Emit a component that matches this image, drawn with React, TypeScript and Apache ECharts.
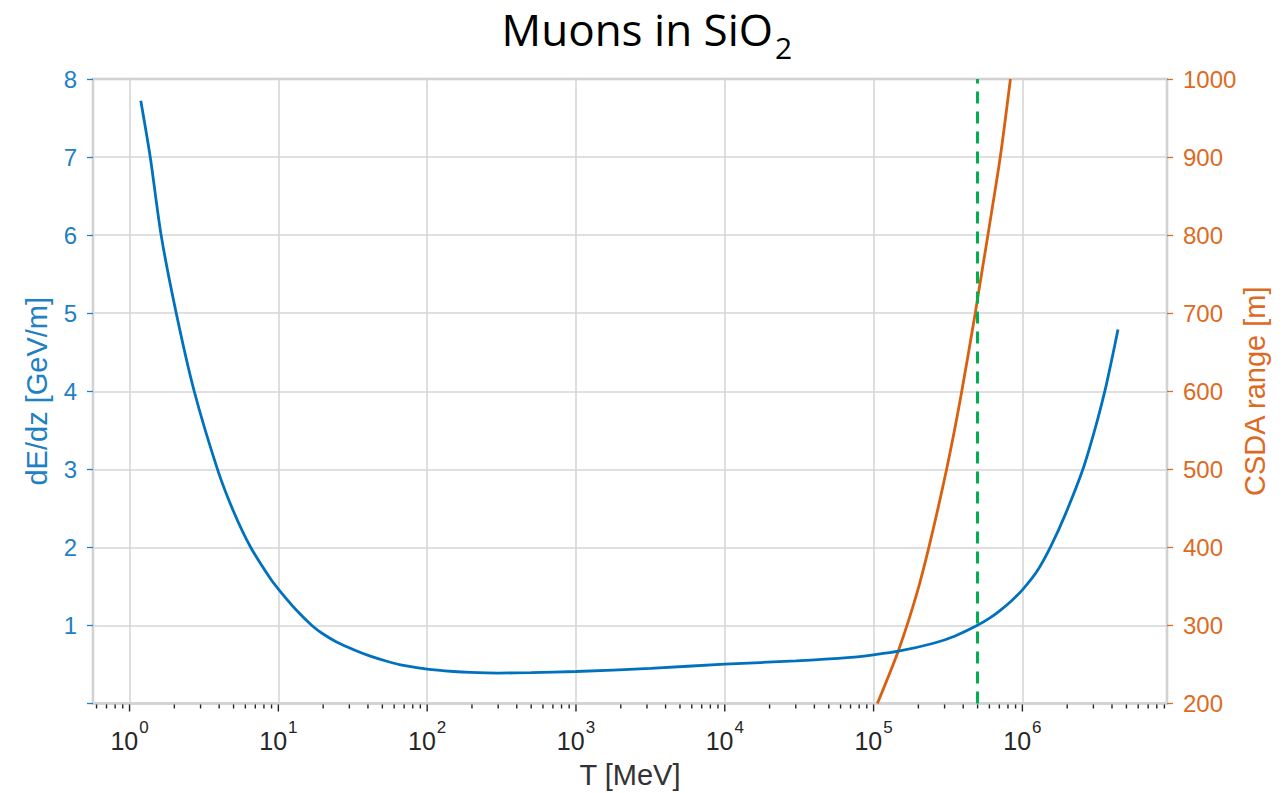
import React, { useEffect, useRef } from "react";
import * as echarts from "echarts";

// ---- data ----
// Blue curve: stopping power dE/dz [GeV/m] vs kinetic energy T [MeV]
const T_DEDZ = [
  1.19, 1.377, 1.63, 2.06, 2.72, 3.9, 5.0, 6.54, 8.83, 10, 13, 16.8, 20, 24.8, 33,
  41.5, 55, 69.4, 100, 150, 195, 300, 500, 1000, 3162, 10000, 30000, 70000, 100000,
  147000, 253000, 350000, 495000, 609000, 710000, 850000, 1000000, 1250000,
  1540000, 1940000, 2550000, 3090000, 3610000, 4000000, 4390000,
];
const DEDZ = [
  7.72, 7.0, 6.0, 5.0, 4.0, 3.0, 2.46, 1.995, 1.6, 1.465, 1.21, 1.0, 0.89, 0.785,
  0.68, 0.607, 0.535, 0.487, 0.44, 0.41, 0.398, 0.39, 0.395, 0.41, 0.45, 0.505,
  0.545, 0.59, 0.624, 0.67, 0.772, 0.862, 0.998, 1.1, 1.193, 1.32, 1.455, 1.69,
  2.0, 2.42, 3.0, 3.53, 4.03, 4.42, 4.79,
];
// Orange curve: CSDA range [m] vs T [MeV]
const T_RANGE = [
  106000, 147000, 196000, 240000, 311000, 383000, 482000, 521000, 584000, 710000,
  831000,
];
const RANGE = [200, 268, 342, 407, 502, 590, 700, 740, 798, 900, 1000];
// Vertical dashed marker
const MARKER_T = [500000];

// Axis definitions
const X_MIN = 0.568;
const X_MAX = 9.37e6;
const X_LABEL_EXPONENTS = [0, 1, 2, 3, 4, 5, 6];
const X_TICK_DECADES = [-1, 0, 1, 2, 3, 4, 5, 6];
const X_TICK_MULTIPLIERS = [1, 2, 3, 4, 5, 6, 7, 8, 9];
const LEFT_MIN = 0;
const LEFT_MAX = 8;
const LEFT_STEP = 1;
const RIGHT_MIN = 200;
const RIGHT_MAX = 1000;
const RIGHT_STEP = 100;

const TITLE_MAIN = "Muons in SiO";
const TITLE_SUB = "2";

const BLUE = "#0072BD";
const BLUE_TEXT = "#1f80c3";
const ORANGE = "#D9600F";
const ORANGE_TEXT = "#DD6B1F";
const GREEN = "#00B050";
const GRID_COLOR = "#d6d6d6";
const BORDER_COLOR = "#c6c6c6";
const FONT = "Liberation Sans, Arial, sans-serif";

export default function App() {
  const ref = useRef<HTMLDivElement>(null);

  useEffect(() => {
    if (!ref.current) return;
    const chart = echarts.init(ref.current, null, { renderer: "svg" });

    const tickData: number[][] = [];
    X_TICK_DECADES.forEach((d) => {
      X_TICK_MULTIPLIERS.forEach((m) => {
        const v = m * Math.pow(10, d);
        if (v >= X_MIN && v <= X_MAX) tickData.push([v, m === 1 ? 1 : 0]);
      });
    });

    const option: any = {
      animation: false,
      backgroundColor: "#ffffff",
      graphic: [
        {
          type: "text",
          x: 773,
          y: 29,
          style: {
            text: TITLE_MAIN,
            font: "normal 44px 'Open Sans'",
            fill: "#000000",
            align: "right",
            verticalAlign: "middle",
          },
        },
        {
          type: "text",
          x: 775,
          y: 47,
          style: {
            text: TITLE_SUB,
            font: "normal 30px 'Open Sans'",
            fill: "#000000",
            align: "left",
            verticalAlign: "middle",
          },
        },
      ],
      grid: {
        left: 93,
        top: 79,
        width: 1074,
        height: 624.5,
        containLabel: false,
        outerBoundsMode: "none",
        show: true,
        borderColor: BORDER_COLOR,
        borderWidth: 2.5,
        backgroundColor: "transparent",
      },
      xAxis: {
        type: "log",
        logBase: 10,
        min: X_MIN,
        max: X_MAX,
        splitNumber: 7,
        name: "T [MeV]",
        nameLocation: "middle",
        nameGap: 57,
        nameMoveOverlap: false,
        nameTextStyle: { fontFamily: FONT, fontSize: 29, color: "#333333" },
        axisLine: { show: false },
        axisTick: { show: false },
        splitLine: { show: true, lineStyle: { color: GRID_COLOR, width: 1.6 } },
        axisLabel: {
          margin: 25,
          formatter: (v: number) => {
            const e = Math.log10(v);
            const r = Math.round(e);
            if (Math.abs(e - r) < 1e-6 && X_LABEL_EXPONENTS.includes(r)) {
              return `{b|10}{s|${r}}`;
            }
            return "";
          },
          rich: {
            b: { fontFamily: FONT, fontSize: 25, color: "#262626", lineHeight: 25 },
            s: {
              fontFamily: FONT,
              fontSize: 17,
              color: "#262626",
              lineHeight: 17,
              padding: [0, 0, 27, 1],
            },
          },
        },
      },
      yAxis: [
        {
          type: "value",
          min: LEFT_MIN,
          max: LEFT_MAX,
          interval: LEFT_STEP,
          position: "left",
          name: "dE/dz [GeV/m]",
          nameLocation: "middle",
          nameGap: 42,
          nameMoveOverlap: false,
          nameTextStyle: { fontFamily: FONT, fontSize: 29, color: BLUE_TEXT },
          axisLine: { show: false },
          axisTick: {
            show: true,
            length: 6,
            lineStyle: { color: BLUE_TEXT, width: 1.3 },
          },
          axisLabel: {
            margin: 16,
            fontFamily: FONT,
            fontSize: 24,
            color: BLUE_TEXT,
            formatter: (v: number) => (v === 0 ? "" : String(v)),
          },
          splitLine: { show: true, lineStyle: { color: GRID_COLOR, width: 1.6 } },
        },
        {
          type: "value",
          min: RIGHT_MIN,
          max: RIGHT_MAX,
          interval: RIGHT_STEP,
          position: "right",
          name: "CSDA range [m]",
          nameLocation: "middle",
          nameGap: 73,
          nameMoveOverlap: false,
          nameTextStyle: { fontFamily: FONT, fontSize: 29, color: ORANGE_TEXT },
          axisLine: { show: false },
          axisTick: {
            show: true,
            length: 6,
            lineStyle: { color: ORANGE_TEXT, width: 1.3 },
          },
          axisLabel: {
            margin: 16,
            fontFamily: FONT,
            fontSize: 24,
            color: ORANGE_TEXT,
            formatter: (v: number) => String(v),
          },
          splitLine: { show: false },
        },
      ],
      series: [
        {
          name: "dE/dz",
          type: "line",
          xAxisIndex: 0,
          yAxisIndex: 0,
          data: T_DEDZ.map((t, i) => [t, DEDZ[i]]),
          showSymbol: false,
          smooth: 0.25,
          lineStyle: { color: BLUE, width: 2.8 },
          z: 3,
          markLine: {
            silent: true,
            symbol: ["none", "none"],
            label: { show: false },
            lineStyle: { color: GREEN, width: 3, type: [12, 8] },
            data: MARKER_T.map((t) => ({ xAxis: t })),
          },
        },
        {
          name: "CSDA range",
          type: "line",
          xAxisIndex: 0,
          yAxisIndex: 1,
          data: T_RANGE.map((t, i) => [t, RANGE[i]]),
          showSymbol: false,
          smooth: 0.25,
          lineStyle: { color: ORANGE, width: 2.8 },
          z: 2,
        },
        {
          name: "xticks",
          type: "custom",
          xAxisIndex: 0,
          yAxisIndex: 0,
          clip: false,
          silent: true,
          z: 5,
          data: tickData,
          renderItem: (params: any, api: any) => {
            const x = api.coord([api.value(0), LEFT_MIN])[0];
            const y0 = params.coordSys.y + params.coordSys.height + 1;
            const len = api.value(1) ? 7 : 4;
            return {
              type: "line",
              shape: { x1: x, y1: y0, x2: x, y2: y0 + len },
              style: { stroke: "#222222", lineWidth: 1.4 },
            };
          },
        },
      ],
    };

    chart.setOption(option);
    return () => chart.dispose();
  }, []);

  return (
    <div
      ref={ref}
      style={{ position: "absolute", left: 0, top: 0, width: 1286, height: 793 }}
    />
  );
}
